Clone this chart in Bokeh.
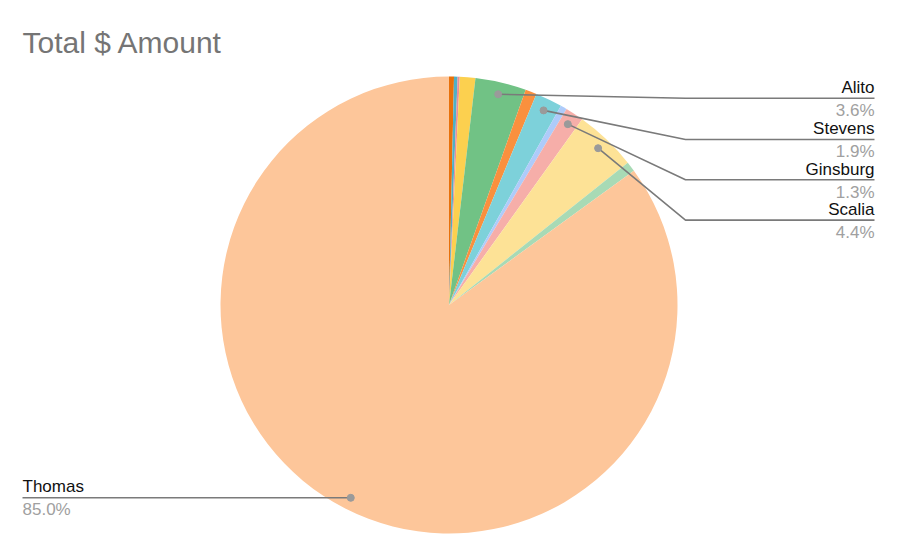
import math
from bokeh.plotting import figure
from bokeh.models import Range1d, ColumnDataSource, Label
from bokeh.core.properties import value
from bokeh.embed import file_html
from bokeh.resources import INLINE

# ---- data (clockwise from 12 o'clock) ----
names = ["Other 1", "Other 2", "Other 3", "Other 4", "Alito", "Other 5",
         "Stevens", "Other 6", "Ginsburg", "Scalia", "Other 7", "Thomas"]
values = [0.35, 0.25, 0.15, 1.1, 3.6, 0.8, 1.9, 0.45, 1.3, 4.4, 0.7, 85.0]
colors = ["#E8710A", "#4FB0C6", "#E88F9A", "#FCD04F", "#71C285", "#FA903E",
          "#7DD1DA", "#AECBFA", "#F6AEA9", "#FDE296", "#A8DAB5", "#FDC69A"]
right_labels = ["Alito", "Stevens", "Ginsburg", "Scalia"]
left_labels = ["Thomas"]

# ---- layout (image pixel coords) ----
W, H = 884, 544
def Y(img_y):
    return 560 - img_y

cx, cy, R = 448.5, Y(304.5), 228.5
dot_r = 0.947 * R
FONT = value("Liberation Sans")
TXT_SHIFT = 5.0  # compensate glyph baseline offset

p = figure(width=W, height=H, output_backend="svg", toolbar_location=None,
           x_range=Range1d(0, W), y_range=Range1d(16, 560),
           x_axis_type=None, y_axis_type=None, min_border=0,
           outline_line_color=None)
p.grid.visible = False

total = sum(values)
starts, ends, mids = [], [], []
cum = 0.0
for v in values:
    a0 = cum / total
    cum += v
    a1 = cum / total
    starts.append(math.pi / 2 - a1 * 2 * math.pi)
    ends.append(math.pi / 2 - a0 * 2 * math.pi)
    mids.append(math.pi / 2 - (a0 + a1) / 2 * 2 * math.pi)

src = ColumnDataSource(dict(x=[cx] * len(values), y=[cy] * len(values),
                            start=starts, end=ends, color=colors))
p.wedge(x="x", y="y", radius=R, start_angle="start", end_angle="end",
        fill_color="color", line_color=None, source=src)

LINE_C = "#7a7a7a"
DOT_C = "#9a9a9a"

# right-side labels
line_ys = [97.7, 139.0, 179.3, 219.6]
bend_x, end_x = 685, 874
rx, ry_name, ry_pct, rname, rpct = [], [], [], [], []
for nm, ly in zip(right_labels, line_ys):
    i = names.index(nm)
    dx = cx + dot_r * math.cos(mids[i])
    dy = cy + dot_r * math.sin(mids[i])
    p.line([dx, bend_x, end_x], [dy, Y(ly), Y(ly)], line_color=LINE_C, line_width=1.6)
    p.scatter([dx], [dy], size=7, fill_color=DOT_C, line_color=DOT_C)
    rx.append(end_x)
    ry_name.append(Y(ly - 5.8 - TXT_SHIFT))
    ry_pct.append(Y(ly + 17.4 - TXT_SHIFT))
    rname.append(nm)
    rpct.append(f"{values[i]:.1f}%")

p.text(x=rx, y=ry_name, text=rname, text_align="right", text_baseline="alphabetic",
       text_font=FONT, text_font_size="17px", text_color="#111111")
p.text(x=rx, y=ry_pct, text=rpct, text_align="right", text_baseline="alphabetic",
       text_font=FONT, text_font_size="17px", text_color="#a0a0a0")

# left-side label (Thomas)
for nm in left_labels:
    i = names.index(nm)
    dx = cx + dot_r * math.cos(mids[i])
    dy = cy + dot_r * math.sin(mids[i])
    p.line([22, dx], [dy, dy], line_color=LINE_C, line_width=1.6)
    p.scatter([dx], [dy], size=7, fill_color=DOT_C, line_color=DOT_C)
    p.text(x=[22], y=[dy + 6 + TXT_SHIFT], text=[nm], text_align="left",
           text_baseline="alphabetic", text_font=FONT, text_font_size="17px",
           text_color="#111111")
    p.text(x=[22], y=[dy - 16.7 + TXT_SHIFT], text=[f"{values[i]:.1f}%"],
           text_align="left", text_baseline="alphabetic", text_font=FONT,
           text_font_size="17px", text_color="#a0a0a0")

p.add_layout(Label(x=22, y=Y(42), text="Total $ Amount", text_font="Liberation Sans",
                   text_font_size="30px", text_color="#757575",
                   text_baseline="alphabetic"))

open("out.html", "w").write(file_html(p, INLINE))
